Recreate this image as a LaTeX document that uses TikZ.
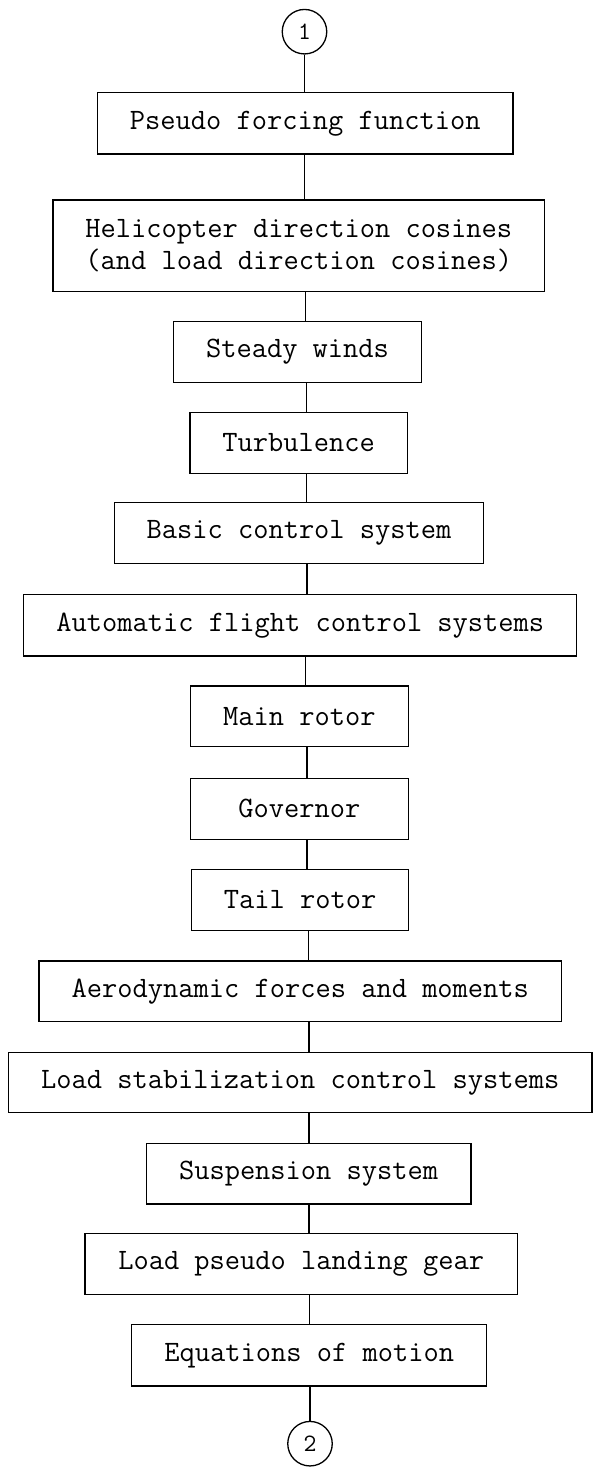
\documentclass[tikz,border=0pt]{standalone}
\usepackage{fontspec}
\begin{document}
\begin{tikzpicture}[x=1pt,y=-1pt,
  box/.style={draw,line width=1.3pt,inner sep=0pt,align=center,
    font=\fontsize{29.6}{31.7}\selectfont\ttfamily},
  conn/.style={draw,line width=1.4pt},
  term/.style={draw,circle,line width=1.3pt,inner sep=0pt,minimum size=44.5pt,
    font=\fontsize{25}{27}\selectfont\ttfamily}]
\useasboundingbox (0,0) rectangle (593,1469);
\newcommand\mkbox[7]{\node[box,minimum width=#4pt,minimum height=#5pt] (#1) at (#2,#3) {#6};}
\node[term] (c1) at (304.5,31.7) {1};
\mkbox{pf}{305.3}{123.3}{415.4}{61.3}{Pseudo forcing function}{}
\mkbox{hd}{298.8}{245.8}{491.6}{91.7}{Helicopter direction cosines\\(and load direction cosines)}{}
\mkbox{sw}{297.5}{352}{248.5}{60.6}{Steady winds}{}
\mkbox{tb}{298.6}{442.8}{217.4}{61}{Turbulence}{}
\mkbox{bc}{299}{533}{368.8}{60.6}{Basic control system}{}
\mkbox{af}{300.3}{625.2}{553}{61.7}{Automatic flight control systems}{}
\mkbox{mr}{299.4}{716.4}{218.3}{60.7}{Main rotor}{}
\mkbox{gv}{299.4}{808.8}{218.3}{61}{Governor}{}
\mkbox{tr}{300.1}{900}{216.7}{61.4}{Tail rotor}{}
\mkbox{ad}{300.3}{991.3}{522.6}{60.7}{Aerodynamic forces and moments}{}
\mkbox{ls}{300.2}{1082.5}{583.7}{60.4}{Load stabilization control systems}{}
\mkbox{ss}{308.6}{1173.7}{324.5}{60.7}{Suspension system}{}
\mkbox{lp}{301.2}{1263.8}{432.4}{61}{Load pseudo landing gear}{}
\mkbox{em}{309.2}{1355.2}{355.2}{61.7}{Equations of motion}{}
\node[term] (c2) at (310,1443.7) {2};
\newcommand\conn[3]{\coordinate (tmpx) at (#3,0); \draw[conn] (#1.south -| tmpx) -- (#2.north -| tmpx);}
\conn{c1}{pf}{304.5}
\conn{pf}{hd}{304.5}
\conn{hd}{sw}{305.6}
\conn{sw}{tb}{306.4}
\conn{tb}{bc}{306.4}
\conn{bc}{af}{307}
\conn{af}{mr}{305.6}
\conn{mr}{gv}{307}
\conn{gv}{tr}{307}
\conn{tr}{ad}{308.2}
\conn{ad}{ls}{309}
\conn{ls}{ss}{309}
\conn{ss}{lp}{309}
\conn{lp}{em}{309.4}
\draw[conn] (em.south -| c2) -- (c2.north);
\end{tikzpicture}
\end{document}
